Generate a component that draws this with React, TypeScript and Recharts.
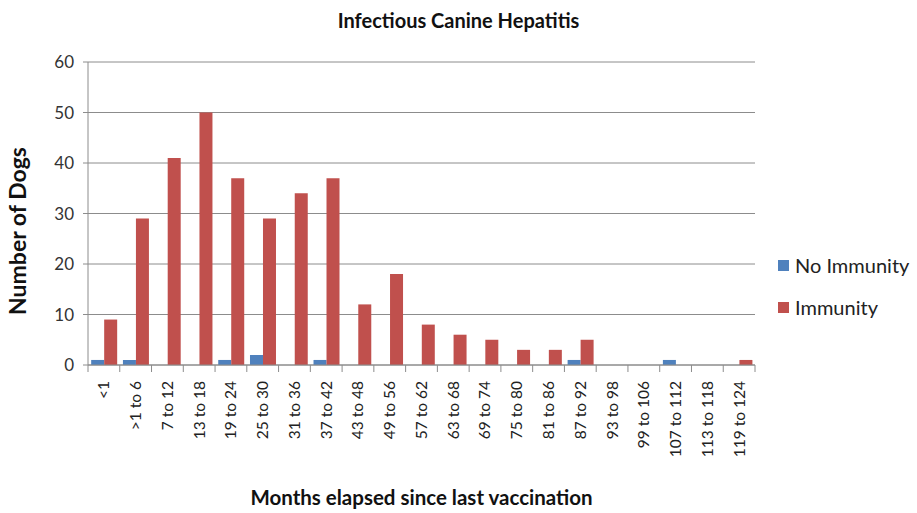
import React from 'react';
import { BarChart, Bar, XAxis, YAxis, CartesianGrid, Label } from 'recharts';

const categories = [
  '<1', '>1 to 6', '7 to 12', '13 to 18', '19 to 24', '25 to 30', '31 to 36', '37 to 42',
  '43 to 48', '49 to 56', '57 to 62', '63 to 68', '69 to 74', '75 to 80', '81 to 86',
  '87 to 92', '93 to 98', '99 to 106', '107 to 112', '113 to 118', '119 to 124',
];
const noImmunity = [1, 1, 0, 0, 1, 2, 0, 1, 0, 0, 0, 0, 0, 0, 0, 1, 0, 0, 1, 0, 0];
const immunity = [9, 29, 41, 50, 37, 29, 34, 37, 12, 18, 8, 6, 5, 3, 3, 5, 0, 0, 0, 0, 1];
const yTicks = [0, 10, 20, 30, 40, 50, 60];

const data = categories.map((name, i) => ({
  name,
  noImmunity: noImmunity[i],
  immunity: immunity[i],
}));

const FONT = 'Lato, "Open Sans", sans-serif';
const BLUE = '#4F81BD';
const RED = '#C0504D';
const AXIS = '#8c8c8c';

const PLOT_LEFT = 88;
const PLOT_RIGHT = 755;
const BAND = (PLOT_RIGHT - PLOT_LEFT) / categories.length;

const CategoryTick = (props: any) => {
  const { x, y, payload, index } = props;
  const left = x - BAND / 2;
  return (
    <g>
      <line x1={left} y1={y} x2={left} y2={y + 7} stroke={AXIS} />
      {index === categories.length - 1 && (
        <line x1={x + BAND / 2} y1={y} x2={x + BAND / 2} y2={y + 7} stroke={AXIS} />
      )}
      <text
        transform={`translate(${x},${y + 16}) rotate(-90)`}
        textAnchor="end"
        dy="0.35em"
        fontFamily={FONT}
        fontSize={15.5}
        fill="#222"
      >
        {payload.value}
      </text>
    </g>
  );
};

// y title sits a little below the plot's middle, as in the original
const YTitle = () => (
  <text
    transform="translate(18,231) rotate(-90)"
    textAnchor="middle"
    dy="0.35em"
    fontFamily={FONT}
    fontWeight={700}
    fontSize={23}
    fill="#111"
  >
    Number of Dogs
  </text>
);

const legendItems = [
  { color: BLUE, label: 'No Immunity', top: 254 },
  { color: RED, label: 'Immunity', top: 296 },
];

export default function App() {
  return (
    <div style={{ position: 'absolute', left: 0, top: 0, width: 917, height: 513, background: '#fff' }}>
      <div
        style={{
          position: 'absolute', left: 0, width: 917, top: 8, textAlign: 'center',
          fontFamily: FONT, fontWeight: 700, fontSize: 20, color: '#111',
        }}
      >
        Infectious Canine Hepatitis
      </div>
      {legendItems.map((d) => (
        <div
          key={d.label}
          style={{
            position: 'absolute', left: 778, top: d.top, display: 'flex', alignItems: 'center',
            fontFamily: FONT, fontSize: 20, color: '#222', lineHeight: '22px',
          }}
        >
          <span style={{ width: 11, height: 11, background: d.color, display: 'inline-block', marginRight: 6 }} />
          <span>{d.label}</span>
        </div>
      ))}
      <BarChart
        width={917}
        height={513}
        data={data}
        margin={{ top: 62, right: 917 - PLOT_RIGHT, left: 40, bottom: 0 }}
        barCategoryGap="10%"
        barGap={0}
      >
        <CartesianGrid vertical={false} stroke={AXIS} strokeWidth={1} />
        <XAxis
          dataKey="name"
          height={148}
          interval={0}
          stroke={AXIS}
          tickLine={false}
          tickSize={0}
          tickMargin={0}
          tick={<CategoryTick />}
        >
          <Label
            value="Months elapsed since last vaccination"
            position="insideBottom"
            offset={8}
            style={{ fontFamily: FONT, fontWeight: 700, fontSize: 20.5, fill: '#111' }}
          />
        </XAxis>
        <YAxis
          width={PLOT_LEFT - 40}
          domain={[0, 60]}
          ticks={yTicks}
          stroke={AXIS}
          tickSize={5}
          tickMargin={9}
          tick={{ fontFamily: FONT, fontSize: 17, fill: '#333' }}
        >
          <Label content={<YTitle />} />
        </YAxis>
        <Bar dataKey="noImmunity" name="No Immunity" fill={BLUE} isAnimationActive={false} />
        <Bar dataKey="immunity" name="Immunity" fill={RED} isAnimationActive={false} />
      </BarChart>
    </div>
  );
}
